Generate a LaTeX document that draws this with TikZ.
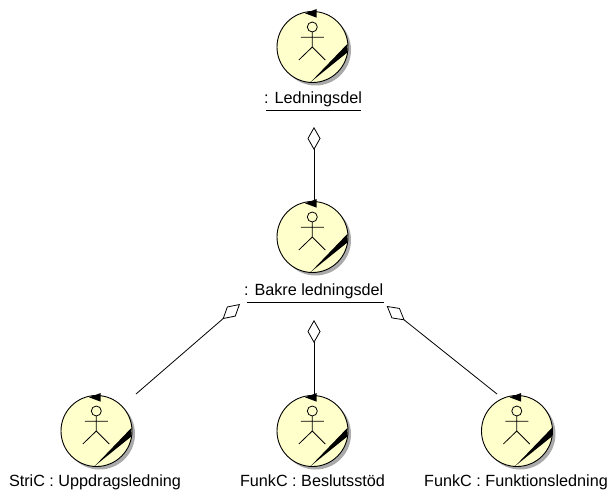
\documentclass[tikz,border=0pt]{standalone}
\usepackage{fontspec}
\setmainfont{Liberation Sans}
\usetikzlibrary{arrows.meta}
\definecolor{actorfill}{RGB}{255,255,204}
\definecolor{actorshadow}{RGB}{170,170,170}
\tikzset{
  x=1pt,y=-1pt,
  lbl/.style={inner sep=0pt,font=\fontsize{16.2}{18}\selectfont,anchor=base},
  actorbody/.style={circle,draw=black,line width=0.9pt,fill=actorfill,minimum size=71pt,inner sep=0pt},
  rule/.style={line width=0.9pt,black},
  aggr/.style={line width=0.8pt,black,{Diamond[open,fill=white,length=23pt,width=13pt,line width=0.8pt]}-},
}
\newcommand{\actorat}[3]{%
  \fill[actorshadow] (#1+3,#2+3) circle[radius=35.5];
  \node[actorbody] (#3) at (#1,#2) {};
  \begin{scope}[shift={(#1,#2)}]
    \draw[line width=0.8pt] (-0.2,-20) circle[radius=5];
    \draw[line width=0.8pt] (-0.2,-15) -- (-0.2,0) (-11.7,-9.7) -- (11.3,-9.7) (-13.7,13) -- (-0.2,0) -- (12.8,13);
    \fill (-7.5,-33.7) -- (4.2,-38) -- (4.2,-29.3) -- cycle;
    \fill (-1.8,35) -- (34.8,-3) -- (34.8,5.5) -- cycle;
  \end{scope}}
\begin{document}
\begin{tikzpicture}
\useasboundingbox (0,0) rectangle (613,494);
\actorat{312.5}{47}{a}
\actorat{312.5}{237}{b}
\actorat{96.5}{431}{c}
\actorat{312.5}{431}{d}
\actorat{517}{431}{e}
\node[lbl] (la) at (313,104) {: Ledningsdel};
\node[lbl] (lb) at (313.7,295) {: Bakre ledningsdel};
\node[lbl] (lc) at (95,486.5) {StriC : Uppdragsledning};
\node[lbl] (ld) at (312.5,486.5) {FunkC : Beslutsstöd};
\node[lbl] (le) at (516,486.5) {FunkC : Funktionsledning};
\coordinate (ua1) at (266,110.5); \coordinate (ua2) at (361,110.5);
\coordinate (ub1) at (246.5,302); \coordinate (ub2) at (384,302);
\draw[rule] (ua1) -- (ua2);
\draw[rule] (ub1) -- (ub2);
\coordinate (ta) at (314,127);
\coordinate (tb) at (314,201);
\coordinate (tc) at (240,304);
\coordinate (td) at (314,320);
\coordinate (te) at (386.7,306);
\coordinate (sc) at (136,394);
\coordinate (sd) at (314,394);
\coordinate (se) at (497,394);
\draw[aggr] (ta) -- (tb);
\draw[aggr] (tc) -- (sc);
\draw[aggr] (td) -- (sd);
\draw[aggr] (te) -- (se);
\end{tikzpicture}
\end{document}
